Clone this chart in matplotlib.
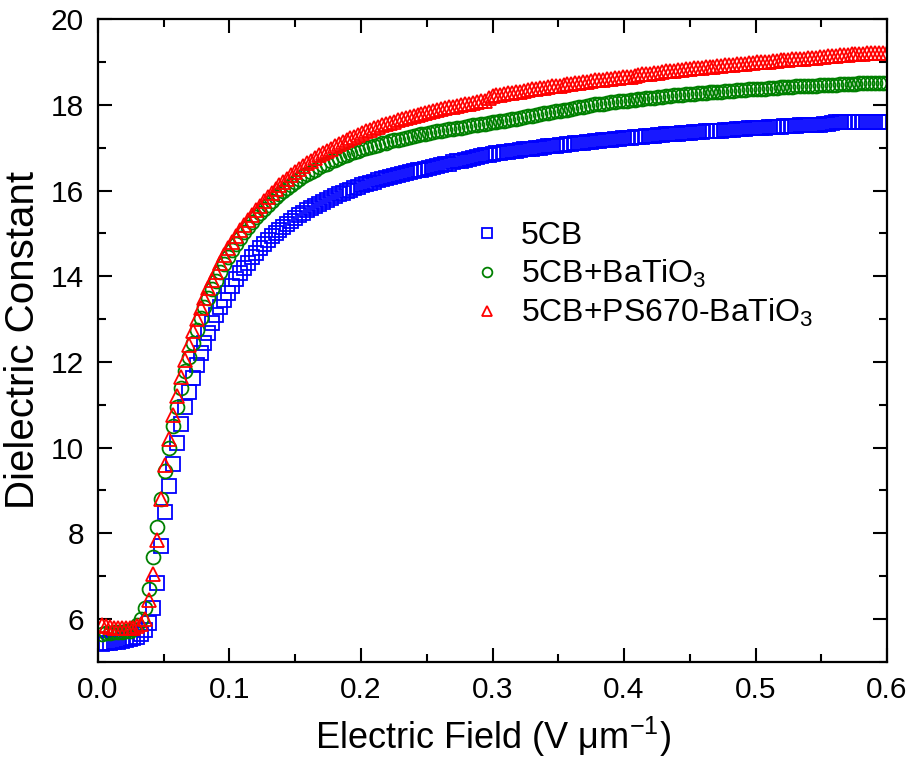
import numpy as np
import matplotlib
matplotlib.use("Agg")
import matplotlib.pyplot as plt
from matplotlib.ticker import MultipleLocator

plt.rcParams["font.family"] = ["Liberation Sans", "DejaVu Sans"]
plt.rcParams["mathtext.fontset"] = "custom"
plt.rcParams["mathtext.rm"] = "Liberation Sans"
plt.rcParams["mathtext.it"] = "Liberation Sans:italic"

# Field sweep: uniform steps of 0.003 V/um
field_step = 0.003
n_points = 200
field = np.round(np.arange(1, n_points + 1) * field_step, 3)

labels = ["5CB", "5CB+BaTiO$_3$", "5CB+PS670-BaTiO$_3$"]

eps_5cb = [
    5.42, 5.44, 5.45, 5.46, 5.47, 5.49, 5.51, 5.53, 5.56, 5.59,
    5.65, 5.74, 5.90, 6.25, 6.85, 7.70, 8.50, 9.10, 9.62, 10.10,
    10.55, 10.95, 11.30, 11.62, 11.92, 12.20, 12.45, 12.68, 12.90, 13.10,
    13.28, 13.45, 13.62, 13.78, 13.93, 14.07, 14.20, 14.32, 14.44, 14.55,
    14.65, 14.75, 14.84, 14.93, 15.01, 15.09, 15.16, 15.23, 15.30, 15.36,
    15.42, 15.48, 15.54, 15.59, 15.64, 15.69, 15.74, 15.78, 15.83, 15.87,
    15.91, 15.95, 15.99, 16.02, 16.06, 16.09, 16.12, 16.15, 16.18, 16.21,
    16.24, 16.27, 16.29, 16.32, 16.34, 16.37, 16.39, 16.41, 16.43, 16.45,
    16.47, 16.49, 16.51, 16.53, 16.55, 16.57, 16.59, 16.61, 16.63, 16.66,
    16.68, 16.70, 16.72, 16.74, 16.76, 16.78, 16.80, 16.82, 16.84, 16.86,
    16.87, 16.88, 16.90, 16.91, 16.92, 16.93, 16.95, 16.96, 16.97, 16.98,
    16.99, 17.00, 17.01, 17.03, 17.04, 17.05, 17.06, 17.07, 17.08, 17.09,
    17.10, 17.11, 17.12, 17.13, 17.14, 17.15, 17.16, 17.17, 17.18, 17.19,
    17.20, 17.21, 17.22, 17.22, 17.23, 17.24, 17.25, 17.26, 17.27, 17.28,
    17.28, 17.29, 17.30, 17.31, 17.31, 17.32, 17.33, 17.34, 17.34, 17.35,
    17.36, 17.36, 17.37, 17.38, 17.38, 17.39, 17.40, 17.40, 17.41, 17.42,
    17.42, 17.43, 17.43, 17.44, 17.45, 17.45, 17.46, 17.46, 17.47, 17.48,
    17.48, 17.49, 17.49, 17.50, 17.50, 17.51, 17.51, 17.52, 17.52, 17.53,
    17.53, 17.54, 17.54, 17.55, 17.56, 17.58, 17.59, 17.60, 17.60, 17.60,
    17.61, 17.61, 17.61, 17.60, 17.60, 17.60, 17.60, 17.59, 17.59, 17.59,
]

eps_batio3 = [
    5.66, 5.68, 5.68, 5.69, 5.69, 5.70, 5.71, 5.73, 5.77, 5.85,
    6.00, 6.25, 6.70, 7.45, 8.15, 8.80, 9.45, 10.00, 10.50, 10.95,
    11.38, 11.78, 12.12, 12.45, 12.75, 13.02, 13.27, 13.50, 13.71, 13.90,
    14.10, 14.28, 14.45, 14.61, 14.76, 14.90, 15.03, 15.15, 15.27, 15.38,
    15.48, 15.58, 15.67, 15.76, 15.84, 15.92, 16.00, 16.07, 16.14, 16.21,
    16.27, 16.33, 16.39, 16.44, 16.49, 16.54, 16.59, 16.63, 16.68, 16.72,
    16.76, 16.80, 16.83, 16.87, 16.90, 16.93, 16.96, 16.99, 17.02, 17.05,
    17.07, 17.10, 17.12, 17.15, 17.17, 17.19, 17.21, 17.23, 17.25, 17.27,
    17.29, 17.31, 17.33, 17.35, 17.36, 17.38, 17.40, 17.41, 17.43, 17.44,
    17.46, 17.47, 17.49, 17.50, 17.52, 17.53, 17.55, 17.56, 17.57, 17.59,
    17.60, 17.62, 17.63, 17.65, 17.66, 17.68, 17.70, 17.71, 17.73, 17.74,
    17.76, 17.78, 17.80, 17.81, 17.83, 17.85, 17.86, 17.88, 17.89, 17.91,
    17.93, 17.95, 17.96, 17.98, 17.99, 18.01, 18.02, 18.03, 18.04, 18.06,
    18.07, 18.08, 18.09, 18.10, 18.11, 18.12, 18.13, 18.14, 18.15, 18.16,
    18.17, 18.18, 18.19, 18.20, 18.21, 18.22, 18.23, 18.24, 18.25, 18.25,
    18.26, 18.27, 18.28, 18.28, 18.29, 18.30, 18.31, 18.31, 18.32, 18.33,
    18.33, 18.34, 18.35, 18.35, 18.36, 18.37, 18.37, 18.38, 18.38, 18.39,
    18.40, 18.40, 18.41, 18.41, 18.42, 18.42, 18.43, 18.43, 18.44, 18.44,
    18.45, 18.45, 18.46, 18.46, 18.47, 18.47, 18.47, 18.48, 18.48, 18.49,
    18.49, 18.49, 18.50, 18.50, 18.50, 18.51, 18.51, 18.51, 18.52, 18.52,
]

eps_ps670_batio3 = [
    5.86, 5.84, 5.82, 5.80, 5.79, 5.78, 5.78, 5.79, 5.80, 5.83,
    5.88, 6.00, 6.45, 7.05, 7.85, 8.80, 9.60, 10.20, 10.75, 11.20,
    11.65, 12.05, 12.40, 12.72, 13.00, 13.25, 13.50, 13.72, 13.92, 14.10,
    14.32, 14.50, 14.66, 14.81, 14.95, 15.08, 15.20, 15.32, 15.43, 15.54,
    15.65, 15.75, 15.85, 15.94, 16.03, 16.12, 16.20, 16.28, 16.36, 16.43,
    16.50, 16.57, 16.64, 16.70, 16.76, 16.82, 16.88, 16.93, 16.98, 17.03,
    17.08, 17.13, 17.17, 17.22, 17.26, 17.30, 17.34, 17.38, 17.42, 17.45,
    17.48, 17.52, 17.55, 17.58, 17.61, 17.64, 17.67, 17.69, 17.72, 17.74,
    17.77, 17.79, 17.81, 17.84, 17.86, 17.88, 17.90, 17.92, 17.94, 17.96,
    17.98, 18.00, 18.01, 18.03, 18.05, 18.06, 18.08, 18.10, 18.17, 18.21,
    18.22, 18.24, 18.25, 18.27, 18.28, 18.30, 18.31, 18.33, 18.34, 18.36,
    18.37, 18.39, 18.40, 18.41, 18.43, 18.44, 18.45, 18.47, 18.48, 18.49,
    18.50, 18.52, 18.53, 18.54, 18.55, 18.57, 18.58, 18.59, 18.60, 18.61,
    18.62, 18.63, 18.64, 18.65, 18.66, 18.67, 18.70, 18.71, 18.72, 18.73,
    18.74, 18.75, 18.76, 18.78, 18.79, 18.80, 18.81, 18.82, 18.83, 18.84,
    18.85, 18.86, 18.87, 18.88, 18.88, 18.89, 18.90, 18.91, 18.92, 18.93,
    18.94, 18.95, 18.95, 18.96, 18.97, 18.98, 18.99, 19.00, 19.00, 19.01,
    19.02, 19.03, 19.04, 19.04, 19.05, 19.06, 19.07, 19.08, 19.08, 19.09,
    19.10, 19.10, 19.11, 19.12, 19.13, 19.14, 19.15, 19.16, 19.16, 19.17,
    19.18, 19.18, 19.19, 19.19, 19.20, 19.20, 19.21, 19.21, 19.22, 19.22,
]

series = [eps_5cb, eps_batio3, eps_ps670_batio3]
colors = ["#0000FF", "#008000", "#FF0000"]
markers = ["s", "o", "^"]
sizes = [9.5, 10.0, 10.5]

fig = plt.figure(figsize=(9.07, 7.66), dpi=100)
ax = fig.add_axes([0.108, 0.136, 0.870, 0.839])

for y, c, m, s, lab in zip(series, colors, markers, sizes, labels):
    ax.plot(field, y, linestyle="none", marker=m, markersize=s,
            markerfacecolor="none", markeredgecolor=c, markeredgewidth=1.3,
            label=lab)

ax.set_xlim(0.0, 0.6)
ax.set_ylim(5.0, 20.0)
ax.xaxis.set_major_locator(MultipleLocator(0.1))
ax.xaxis.set_minor_locator(MultipleLocator(0.05))
ax.yaxis.set_minor_locator(MultipleLocator(1))
ax.set_yticks([6, 8, 10, 12, 14, 16, 18, 20])
ax.set_xticks([0.0, 0.1, 0.2, 0.3, 0.4, 0.5, 0.6])
ax.set_xticklabels(["0.0", "0.1", "0.2", "0.3", "0.4", "0.5", "0.6"])

ax.tick_params(which="both", direction="in", top=True, right=True,
               width=1.5, colors="black")
ax.tick_params(which="major", length=10, labelsize=21.5, pad=10)
ax.tick_params(which="minor", length=6)
for sp in ax.spines.values():
    sp.set_linewidth(1.6)

ax.set_xlabel("Electric Field (V \u03bcm$^{-1}$)", fontsize=26, labelpad=8)
ax.set_ylabel("Dielectric Constant", fontsize=29, labelpad=6)

leg = ax.legend(loc="upper left", bbox_to_anchor=(0.473, 0.686), frameon=False,
                fontsize=23, markerscale=0.7, handlelength=1.0,
                handletextpad=0.55, labelspacing=0.22, borderpad=0.0,
                borderaxespad=0.0)

fig.savefig("out.png", dpi=100)
